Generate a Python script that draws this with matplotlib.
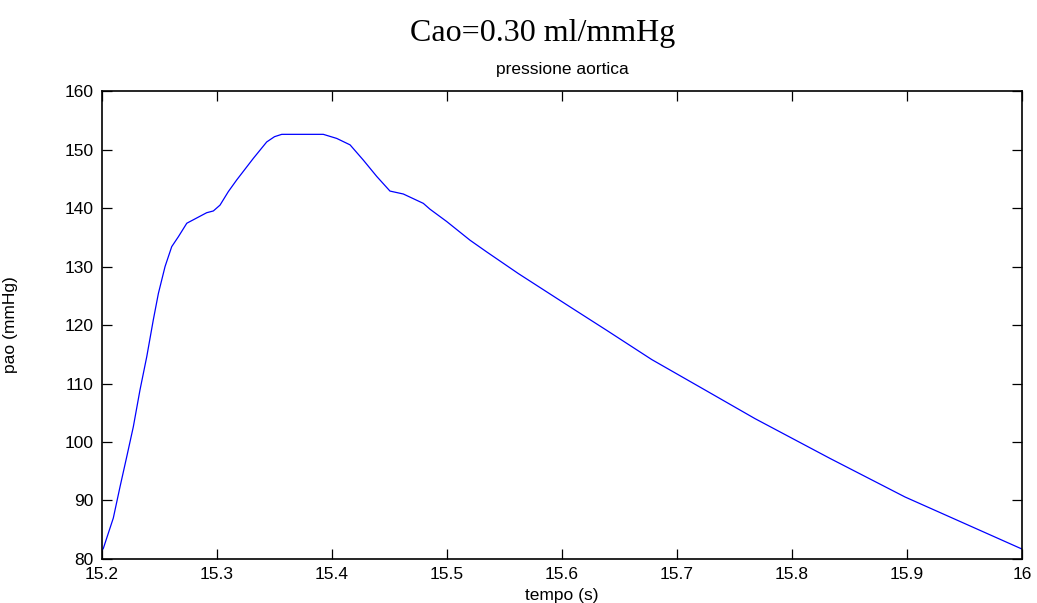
import numpy as np
import matplotlib
matplotlib.use("Agg")
import matplotlib.pyplot as plt

# tempo (s) e pressione aortica (mmHg)
tempo = [15.2000, 15.2011, 15.2098, 15.2157, 15.2215, 15.2272, 15.2330, 15.2389,
         15.2446, 15.2490, 15.2548, 15.2606, 15.2664, 15.2737, 15.2910, 15.2968,
         15.3026, 15.3098, 15.3171, 15.3316, 15.3432, 15.3500, 15.3563, 15.3924,
         15.4041, 15.4157, 15.4272, 15.4389, 15.4504, 15.4620, 15.4794, 15.4852,
         15.4997, 15.5200, 15.5345, 15.5620, 15.6070, 15.6388, 15.6780, 15.7243,
         15.7678, 15.8330, 15.8983, 16.0000]
pao = [81.5, 81.8, 87.0, 92.4, 97.5, 102.6, 108.9, 114.6,
       120.9, 125.4, 130.0, 133.4, 135.1, 137.4, 139.2, 139.5,
       140.5, 142.8, 144.8, 148.5, 151.3, 152.2, 152.6, 152.6,
       151.9, 150.8, 148.2, 145.4, 142.9, 142.4, 140.8, 139.8,
       137.7, 134.5, 132.5, 128.8, 123.1, 119.1, 114.1, 108.9,
       104.0, 97.2, 90.6, 81.7]

xticks = [15.2, 15.3, 15.4, 15.5, 15.6, 15.7, 15.8, 15.9, 16]
xlabels = ["15.2", "15.3", "15.4", "15.5", "15.6", "15.7", "15.8", "15.9", "16"]
yticks = [80, 90, 100, 110, 120, 130, 140, 150, 160]

plt.rcParams['font.family'] = ['Liberation Sans', 'DejaVu Sans']

fig = plt.figure(figsize=(10.37, 6.03), dpi=100)
ax = fig.add_axes([0.0984, 0.073, 0.8871, 0.776])

ax.plot(tempo, pao, color=(0, 0, 1), linewidth=0.9)

ax.set_xlim(15.2, 16)
ax.set_ylim(80, 160)
ax.set_xticks(xticks)
ax.set_xticklabels(xlabels)
ax.set_yticks(yticks)
ax.tick_params(direction="in", length=7, width=0.9, top=True, right=True,
               labelsize=12.5, pad=6)
for s in ax.spines.values():
    s.set_linewidth(1.2)

ax.set_xlabel("tempo (s)", fontsize=12.5, labelpad=4)
ax.set_ylabel("pao (mmHg)", fontsize=12.5)
ax.yaxis.set_label_coords(-0.091, 0.5)
ax.set_title("pressione aortica", fontsize=12.5, pad=12)
fig.text(0.5235, 0.945, "Cao=0.30 ml/mmHg", ha="center", va="center",
         fontsize=23, family="Liberation Serif")

fig.savefig("out.png", dpi=100)
